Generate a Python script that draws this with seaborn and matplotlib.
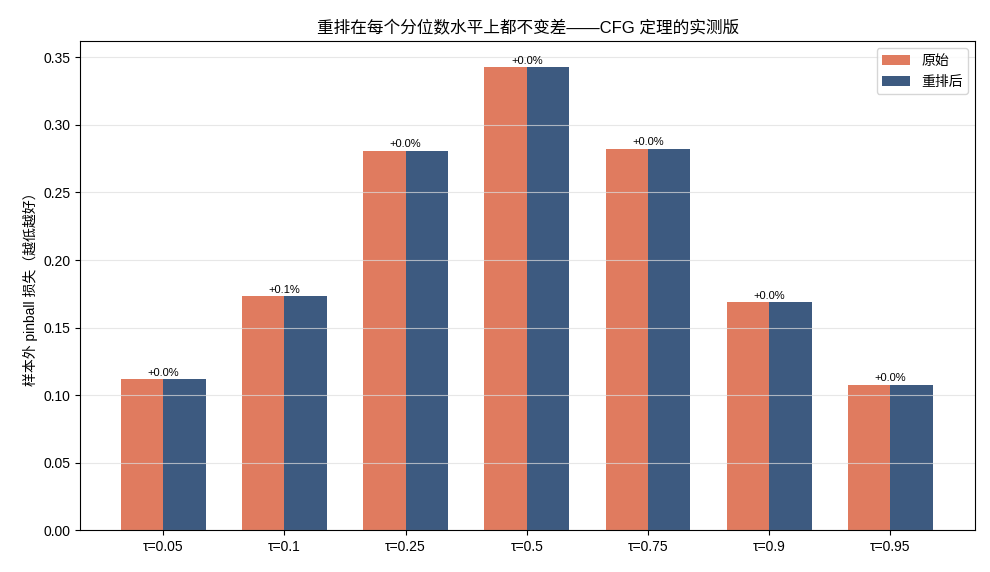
import pandas as pd
import numpy as np
import seaborn as sns
import matplotlib.pyplot as plt

plt.rcParams['font.family'] = ['Liberation Sans', 'Noto Sans CJK SC', 'DejaVu Sans']
plt.rcParams['axes.unicode_minus'] = False

# dados
taus = ['τ=0.05', 'τ=0.1', 'τ=0.25', 'τ=0.5', 'τ=0.75', 'τ=0.9', 'τ=0.95']
perda_original = [0.1116, 0.1731, 0.2810, 0.3430, 0.2825, 0.1690, 0.1077]
perda_reordenada = [0.1116, 0.1733, 0.2810, 0.3430, 0.2825, 0.1690, 0.1077]
series = ['原始', '重排后']
cores = ['#E07B5F', '#3D5A80']

df = pd.DataFrame({
    'tau': taus * 2,
    'perda': perda_original + perda_reordenada,
    'serie': [series[0]] * len(taus) + [series[1]] * len(taus),
})

fig, ax = plt.subplots(figsize=(9.9, 5.72), dpi=100)
sns.barplot(
    data=df, x='tau', y='perda', hue='serie',
    palette=cores, saturation=1, width=0.7, linewidth=0, ax=ax
)

# rotulos de variacao percentual
for i, (a, b) in enumerate(zip(perda_original, perda_reordenada)):
    delta = (b - a) / a * 100
    ax.text(i, max(a, b) + 0.001, f'{delta:+.1f}%',
            ha='center', va='bottom', fontsize=8)

ax.set_ylim(0, 0.362)
ax.set_xlim(-0.685, 6.7)
ax.set_xlabel('')
ax.set_ylabel('样本外 pinball 损失（越低越好）', fontsize=10)
ax.set_title('重排在每个分位数水平上都不变差——CFG 定理的实测版', fontsize=12)
ax.grid(axis='y', color='#dddddd', alpha=0.7, linewidth=0.8)
ax.tick_params(labelsize=10)
ax.legend(title=None, loc='upper right', fontsize=10)

plt.subplots_adjust(left=0.081, right=0.985, top=0.928, bottom=0.073)
plt.savefig('out.png', dpi=100)
plt.close('all')
